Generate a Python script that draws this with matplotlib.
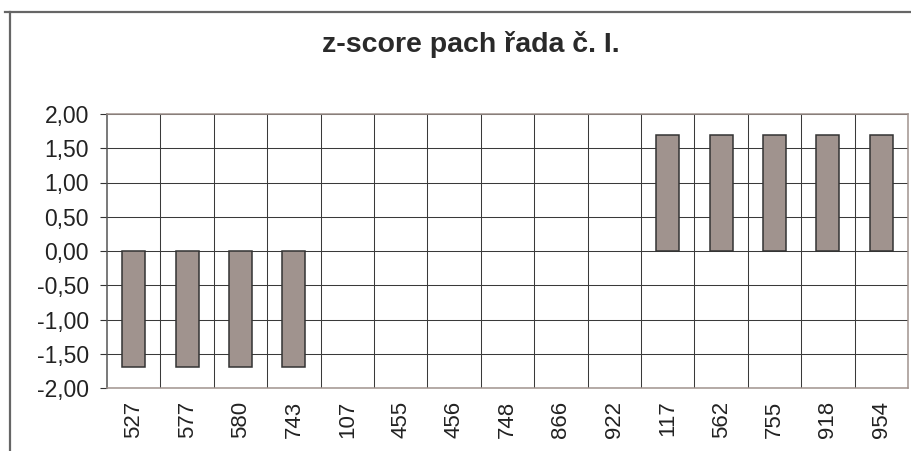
import numpy as np
import matplotlib
matplotlib.use("Agg")
import matplotlib.pyplot as plt
from matplotlib.ticker import FuncFormatter, MultipleLocator
from matplotlib.lines import Line2D

# data
vzorky = ['527', '577', '580', '743', '107', '455', '456', '748',
          '866', '922', '117', '562', '755', '918', '954']
zscore = [-1.70, -1.70, -1.70, -1.70, 0.0, 0.0, 0.0, 0.0,
          0.0, 0.0, 1.70, 1.70, 1.70, 1.70, 1.70]
titulek = 'z-score pach řada č. I.'

plt.rcParams['font.family'] = ['Liberation Sans', 'DejaVu Sans']

W, H = 912, 451
fig = plt.figure(figsize=(W / 100, H / 100), dpi=100)
ax = fig.add_axes([107 / W, 1 - 388 / H, (908 - 107) / W, (388 - 114) / H])

x = np.arange(len(vzorky))
# zero bars have no visible outline in the original
edges = ['#333333' if v != 0 else 'none' for v in zscore]
ax.bar(x, zscore, width=0.43, color='#a0938e', edgecolor=edges,
       linewidth=1.1, zorder=3)

ax.set_xlim(-0.5, len(vzorky) - 0.5)
ax.set_ylim(-2, 2)
ax.yaxis.set_major_locator(MultipleLocator(0.5))
ax.yaxis.set_major_formatter(FuncFormatter(lambda v, p: f'{v:.2f}'.replace('.', ',')))

# horizontal gridlines + vertical lines between categories
ax.grid(axis='y', color='#3a3a3a', linewidth=0.75, zorder=1)
for b in np.arange(0.5, len(vzorky) - 0.5, 1):
    ax.axvline(b, color='#3a3a3a', linewidth=0.75, zorder=1)

ax.set_xticks(x)
ax.set_xticklabels(vzorky, rotation=90, fontsize=16, color='#222222')
ax.tick_params(axis='x', length=0, pad=9)
ax.tick_params(axis='y', length=5, width=0.8, color='#333333', pad=8,
               labelsize=16.5, labelcolor='#222222')

ax.spines['left'].set_color('#555555')
for s in ['bottom', 'right', 'top']:
    ax.spines[s].set_color('#a0938e')
for s in ax.spines.values():
    s.set_linewidth(1.1)

fig.text(471 / W, 1 - 45 / H, titulek, ha='center', va='center',
         fontsize=20.5, fontweight='bold', color='#2a2a2a')

# outer chart frame (cropped at right and bottom)
fig.add_artist(Line2D([5 / W, 1], [1 - 12 / H] * 2, color='#666666', lw=1.6,
                      transform=fig.transFigure))
fig.add_artist(Line2D([10 / W] * 2, [0, 1 - 12 / H], color='#666666', lw=1.6,
                      transform=fig.transFigure))

fig.savefig('out.png', dpi=100)
